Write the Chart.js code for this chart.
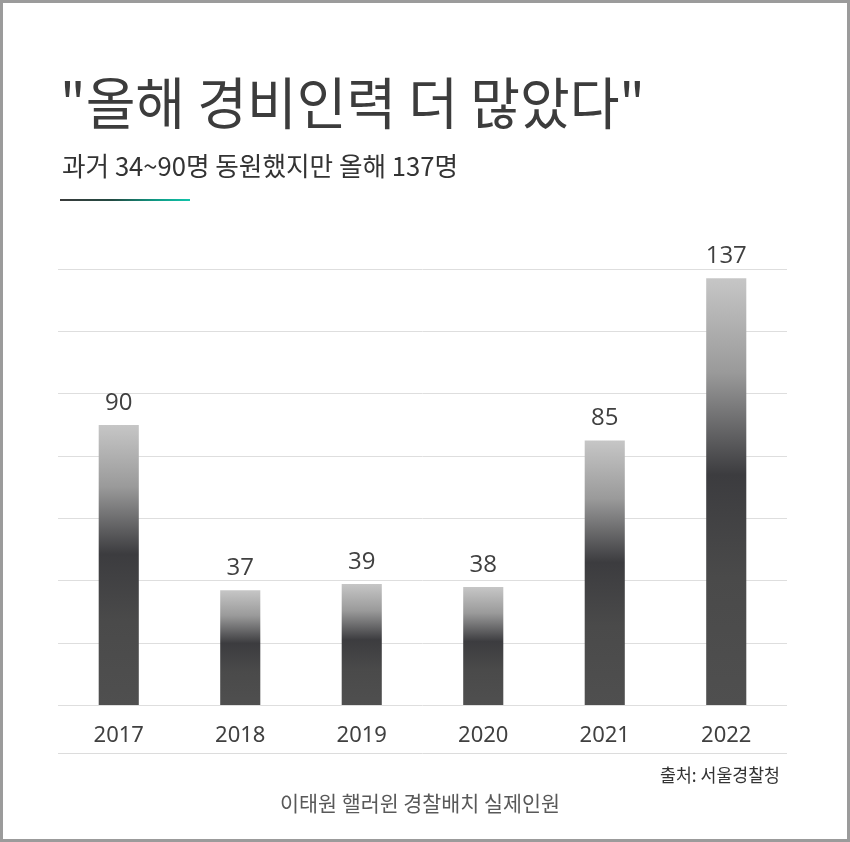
<!DOCTYPE html>
<html>
<head>
<meta charset="utf-8">
<script src="https://cdn.jsdelivr.net/npm/chart.js@4.4.0/dist/chart.umd.min.js"></script>
<style>
  html, body { margin: 0; padding: 0; background: #fff; }
  #wrap { position: relative; width: 850px; height: 842px; }
</style>
</head>
<body>
<div id="wrap"><canvas id="chart"></canvas></div>
<script>
// data
const years = ['2017', '2018', '2019', '2020', '2021', '2022'];
const officers = [90, 37, 39, 38, 85, 137];
const yMax = 140;
const yStep = 20;

const titleText = '"올해 경비인력 더 많았다"';
const subtitleText = '과거 34~90명 동원했지만 올해 137명';
const sourceText = '출처: 서울경찰청';
const footerText = '이태원 핼러윈 경찰배치 실제인원';

const KR = "'Noto Sans CJK KR', 'Noto Sans', sans-serif";

// draws text squeezed to a given width (the original uses a narrow font)
function fitText(c, text, x, y, width, align) {
  const w = c.measureText(text).width;
  c.save();
  c.translate(x, y);
  c.scale(width / w, 1);
  c.textAlign = align;
  c.fillText(text, 0, 0);
  c.restore();
}

const decor = {
  id: 'decor',
  beforeDraw(chart) {
    const c = chart.ctx;
    c.save();
    c.fillStyle = '#fff';
    c.fillRect(0, 0, chart.width, chart.height);
    c.restore();
  },
  afterDraw(chart) {
    const c = chart.ctx;
    const area = chart.chartArea;
    c.save();
    c.textBaseline = 'middle';

    c.fillStyle = '#3c3c3c';
    c.font = '400 56px ' + KR;
    fitText(c, titleText, 60, 103, 585, 'left');

    c.fillStyle = '#333';
    c.font = '400 26px ' + KR;
    fitText(c, subtitleText, 62, 166, 396, 'left');

    const g = c.createLinearGradient(60, 0, 190, 0);
    g.addColorStop(0, '#3a3a3a');
    g.addColorStop(0.4, '#234a42');
    g.addColorStop(0.75, '#0f9c86');
    g.addColorStop(1, '#12c4ab');
    c.fillStyle = g;
    c.fillRect(60, 199, 130, 2);

    c.strokeStyle = '#dcdcdc';
    c.lineWidth = 1;
    c.beginPath();
    c.moveTo(area.left, 753.5);
    c.lineTo(area.right, 753.5);
    c.stroke();

    c.fillStyle = '#333';
    c.font = '400 18px ' + KR;
    fitText(c, sourceText, 780, 775, 120, 'right');

    c.fillStyle = '#595959';
    c.font = '400 21px ' + KR;
    fitText(c, footerText, 420, 803, 280, 'center');

    c.strokeStyle = '#9b9b9b';
    c.lineWidth = 4;
    c.strokeRect(1, 1, chart.width - 2, chart.height - 2);
    c.restore();
  }
};

const valueLabels = {
  id: 'valueLabels',
  afterDatasetsDraw(chart) {
    const c = chart.ctx;
    const meta = chart.getDatasetMeta(0);
    c.save();
    c.fillStyle = '#404040';
    c.font = "400 24px 'Open Sans', sans-serif";
    c.textAlign = 'center';
    c.textBaseline = 'middle';
    meta.data.forEach((bar, i) => {
      c.fillText(String(officers[i]), bar.x, bar.y - 22);
    });
    c.restore();
  }
};

function barFill(ctx) {
  const chart = ctx.chart;
  if (!chart.chartArea) return '#555';
  const y = chart.scales.y;
  const top = y.getPixelForValue(ctx.raw);
  const base = y.getPixelForValue(0);
  const g = chart.ctx.createLinearGradient(0, top, 0, base);
  g.addColorStop(0, '#c6c6c6');
  g.addColorStop(0.22, '#9a9a9a');
  g.addColorStop(0.46, '#3c3c3f');
  g.addColorStop(0.7, '#4a4a4a');
  g.addColorStop(1, '#4f4f4f');
  return g;
}

new Chart(document.getElementById('chart'), {
  type: 'bar',
  data: {
    labels: years,
    datasets: [{
      data: officers,
      backgroundColor: barFill,
      borderWidth: 0,
      barPercentage: 0.33,
      categoryPercentage: 1
    }]
  },
  options: {
    responsive: true,
    maintainAspectRatio: false,
    animation: false,
    events: [],
    layout: { padding: { left: 58, right: 63, top: 269, bottom: 76 } },
    plugins: {
      legend: { display: false },
      tooltip: { enabled: false }
    },
    scales: {
      x: {
        grid: { display: false, drawTicks: false },
        border: { display: false },
        ticks: {
          color: '#404040',
          padding: 17,
          font: { family: "'Noto Sans', sans-serif", size: 22 }
        }
      },
      y: {
        min: 0,
        max: yMax,
        ticks: { display: false, stepSize: yStep },
        grid: { color: '#dedede', lineWidth: 1, drawTicks: false },
        border: { display: false }
      }
    }
  },
  plugins: [decor, valueLabels]
});
</script>
</body>
</html>
